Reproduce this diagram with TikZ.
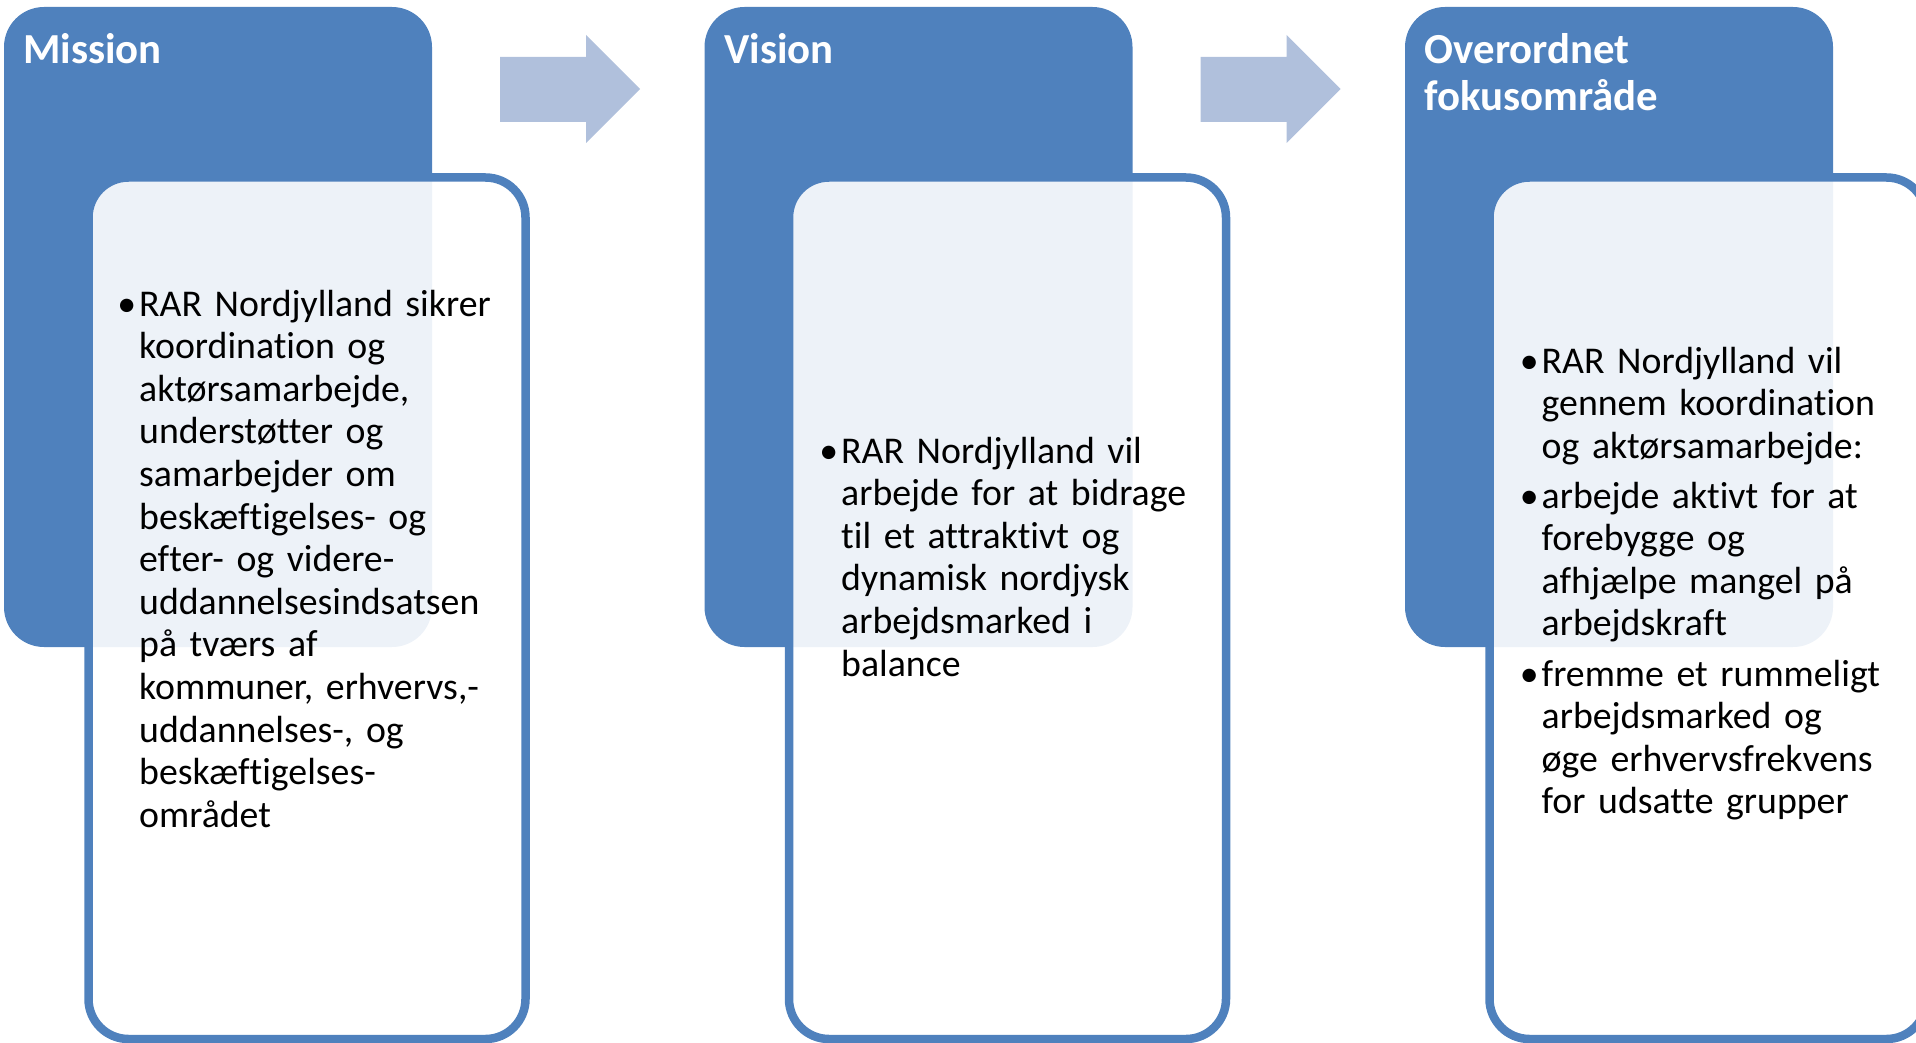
\documentclass[tikz,border=0pt]{standalone}
\usepackage{fontspec}
\setmainfont{Carlito}[Ligatures={NoCommon}]
\definecolor{accent}{HTML}{4F81BD}
\definecolor{arrowc}{HTML}{B0C0DC}
\tikzset{
  bluebox/.style={fill=accent, draw=none, rounded corners=40pt, minimum width=428pt, minimum height=640pt, inner sep=0pt, outer sep=0pt, anchor=north west},
  whitebox/.style={fill=white, fill opacity=0.9, draw=accent, draw opacity=1, line width=8.5pt, rounded corners=40pt, minimum width=437pt, minimum height=861.5pt, inner sep=0pt, outer sep=0pt, anchor=north west},
  titletext/.style={text=white, font=\fontsize{42.8}{46.4}\selectfont\bfseries, anchor=base west, inner sep=0pt, align=left, text width=400pt},
  bodytext/.style={text=black, font=\fontsize{37.8}{42.6}\selectfont, anchor=base west, inner sep=0pt, text width=420pt, align=left},
  bullet/.style={text=black, font=\fontsize{37.8}{42.6}\selectfont, anchor=base east, inner sep=0pt},
  flowarrow/.style={fill=arrowc, draw=none}
}
\begin{document}
\begin{tikzpicture}[x=1pt,y=-1pt]
\useasboundingbox (0,0) rectangle (1916,1043);
\clip (0,0) rectangle (1916,1043);

% ---------- group 1 : Mission ----------
\node[bluebox] (b1) at (4,7) {};
\node[whitebox] (w1) at (88.5,177.5) {};
\node[titletext] (t1) at (23,64) {Mission};
\node[bullet] (u1) at (136.5,316) {•};
\node[bodytext] (p1) at (139,316) {RAR Nordjylland sikrer\\koordination og\\aktørsamarbejde,\\understøtter og\\samarbejder om\\beskæftigelses- og\\efter- og videre-\\uddannelsesindsatsen\\på tværs af\\kommuner, erhvervs,-\\uddannelses-, og\\beskæftigelses-\\området};

% arrow 1
\fill[flowarrow] (500,57) -- (586,57) -- (586,35) -- (640,89) -- (586,143) -- (586,122) -- (500,122) -- cycle;

% ---------- group 2 : Vision ----------
\node[bluebox] (b2) at (704.5,7) {};
\node[whitebox] (w2) at (789,177.5) {};
\node[titletext] (t2) at (724,64) {Vision};
\node[bullet] (u2) at (838.5,463) {•};
\node[bodytext] (p2) at (841,463) {RAR Nordjylland vil\\arbejde for at bidrage\\til et attraktivt og\\dynamisk nordjysk\\arbejdsmarked i\\balance};

% arrow 2
\fill[flowarrow] (1200.5,57) -- (1286.5,57) -- (1286.5,35) -- (1340.5,89) -- (1286.5,143) -- (1286.5,122) -- (1200.5,122) -- cycle;

% ---------- group 3 : Overordnet fokusområde ----------
\node[bluebox] (b3) at (1405,7) {};
\node[whitebox] (w3) at (1489.5,177.5) {};
\node[titletext] (t3) at (1424.5,64) {Overordnet\\fokusområde};
\node[bullet] (u3a) at (1539,373) {•};
\node[bodytext] (p3a) at (1541.5,373) {RAR Nordjylland vil\\gennem koordination\\og aktørsamarbejde:};
\node[bullet] (u3b) at (1539,508) {•};
\node[bodytext] (p3b) at (1541.5,508) {arbejde aktivt for at\\forebygge og\\afhjælpe mangel på\\arbejdskraft};
\node[bullet] (u3c) at (1539,686) {•};
\node[bodytext] (p3c) at (1541.5,686) {fremme et rummeligt\\arbejdsmarked og\\øge erhvervsfrekvens\\for udsatte grupper};
\end{tikzpicture}
\end{document}
